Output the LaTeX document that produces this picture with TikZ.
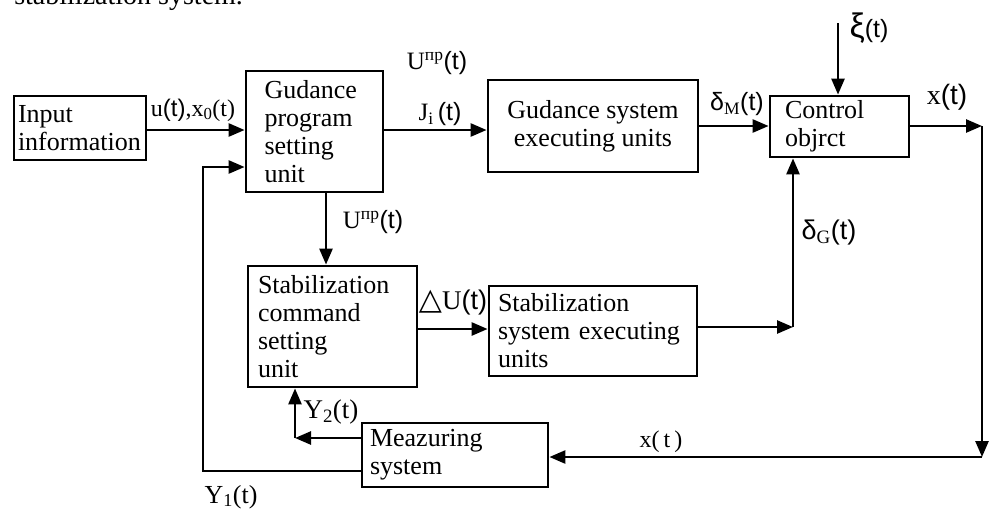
\documentclass[tikz,border=0pt]{standalone}
\usepackage{fontspec}
\setmainfont{Liberation Serif}
\newfontfamily\lsans{Liberation Sans}
\newfontfamily\djv{DejaVu Sans}
\usetikzlibrary{arrows.meta}
\newcommand{\fs}[1]{\fontsize{#1}{#1}\selectfont}
\begin{document}
\begin{tikzpicture}[x=1pt,y=-1pt, line width=2.6pt,
  box/.style={draw, line width=2.8pt, inner ysep=0pt, font=\fontsize{26}{28}\selectfont},
  arr/.style={-{Triangle[length=16pt,width=13pt]}},
  lbl/.style={inner sep=0pt, anchor=center}]
\useasboundingbox (0,0) rectangle (990,512);
\begin{scope}
\clip (0,0) rectangle (990,512);
\node[anchor=base west, inner sep=0pt, font=\fs{28}] (top) at (13,4) {stabilization system.};
\end{scope}
% boxes
\node[box, minimum width=132pt, minimum height=64pt, text width=124pt, inner xsep=4pt, align=left] (in) at (80,128) {Input\\information};
\node[box, minimum width=137pt, minimum height=121pt, text width=100pt, inner xsep=18.5pt, align=left] (gp) at (314.5,131.5) {Gudance\\program\\setting\\unit};
\node[box, minimum width=210pt, minimum height=92pt, align=center] (ge) at (593,126) {Gudance system\\executing units};
\node[box, minimum width=139pt, minimum height=61pt, text width=109pt, inner xsep=15pt, align=left] (ctrl) at (839.5,126.5) {Control\\objrct};
\node[box, minimum width=169pt, minimum height=121pt, text width=149pt, inner xsep=10pt, align=left] (sc) at (332.5,326.5) {Stabilization\\command\\setting\\unit};
\node[box, minimum width=208pt, minimum height=90pt, text width=190pt, inner xsep=9pt, align=left] (se) at (593,331) {Stabilization\\system executing\\units};
\node[box, minimum width=186pt, minimum height=64pt, text width=170pt, inner xsep=8pt, align=left] (ms) at (455,455) {Meazuring\\system};
% coordinates
\coordinate (xi) at (838,23);
\coordinate (xr) at (982,126);
\coordinate (xb) at (982,457);
\coordinate (dg) at (793,327);
\coordinate (y2) at (295,438);
\coordinate (y1a) at (203,471);
\coordinate (y1b) at (203,167);
% connectors
\draw[arr] (in.east |- 0,130) -- (gp.west |- 0,130);
\draw[arr] (gp.east |- 0,130) -- (ge.west |- 0,130);
\draw[arr] (ge.east |- 0,126) -- (ctrl.west |- 0,126);
\draw[arr] (xi) -- (xi |- ctrl.north);
\draw[arr] (ctrl.east |- xr) -- (xr);
\draw[arr] (xr) -- (xb);
\draw[arr] (xb) -- (xb -| ms.east);
\draw[arr] ([xshift=11.5pt]gp.south) -- ([xshift=11.5pt]gp.south |- sc.north);
\draw[arr] (sc.east |- 0,329) -- (se.west |- 0,329);
\draw[arr] (se.east |- dg) -- (dg);
\draw[arr] (dg) -- (dg |- ctrl.south);
\draw[arr] (ms.west |- y2) -- (y2);
\draw[arr] (y2) -- (y2 |- sc.south);
\draw[arr] (ms.west |- y1a) -- (y1a) -- (y1b) -- (y1b -| gp.west);
% labels
\node[lbl, font=\fs{24}] (l1) at (193,110) {u{\lsans(t)},x\textsubscript{0}(t)};
\node[lbl, font=\fs{25}] (l2) at (437,63) {U\textsuperscript{пр}{\lsans(t)}};
\node[lbl, font=\fs{25}] (l3) at (440,114) {J\textsubscript{i}\,{\lsans(t)}};
\node[lbl, font=\fs{25}] (l4) at (737,104) {{\lsans δ}\textsubscript{M}{\lsans(t)}};
\node[lbl, font=\fs{25}] (l5) at (869,28) {{\lsans\fs{34}ξ}{\lsans(t)}};
\node[lbl, font=\fs{28}] (l6) at (947,97) {x{\lsans(t)}};
\node[lbl, font=\fs{25}] (l7) at (373,222) {U\textsuperscript{пр}{\lsans(t)}};
\node[lbl, font=\fs{27}] (l8) at (453,303) {{\djv\bfseries\fs{30}△}U{\lsans(t)}};
\node[lbl, font=\fs{27}] (l9) at (829,233) {{\lsans δ}\textsubscript{G}{\lsans(t)}};
\node[lbl, font=\fs{27}] (l10) at (331,412) {Y\textsubscript{2}(t)};
\node[lbl, font=\fs{26}] (l11) at (231,497) {Y\textsubscript{1}(t)};
\node[lbl, font=\fs{24}] (l12) at (661,442) {x(\,t\,)};
\end{tikzpicture}
\end{document}
